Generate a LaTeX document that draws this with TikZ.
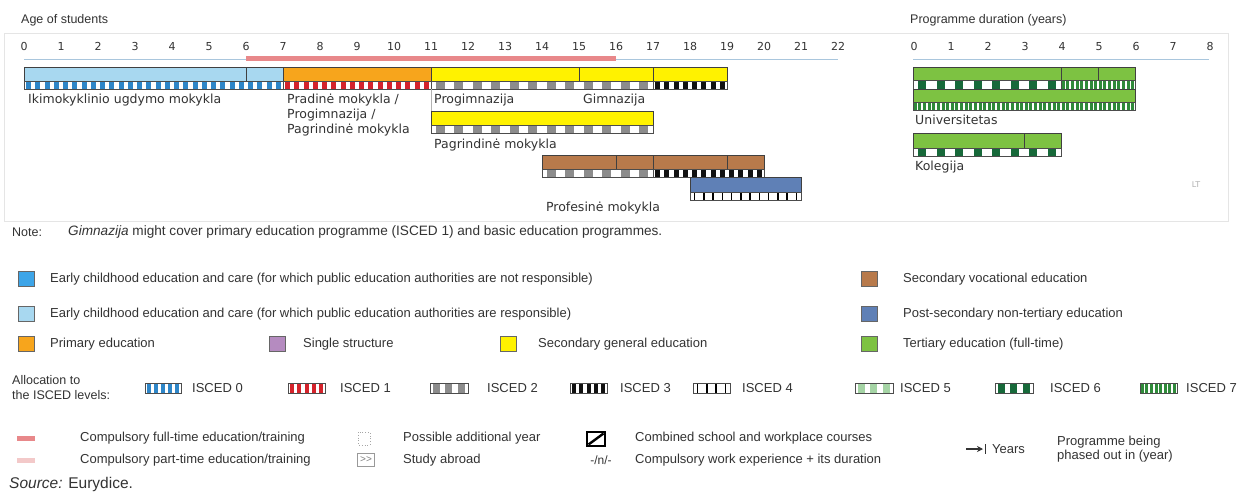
\documentclass[tikz,border=0pt]{standalone}
\usepackage{fontspec}
\setmainfont{Liberation Sans}
\newfontfamily\chartfont{DejaVu Sans}
\usetikzlibrary{arrows.meta}
\definecolor{ecec}{HTML}{A8D8F0}
\definecolor{ececnr}{HTML}{3DA5E8}
\definecolor{prim}{HTML}{F7A51C}
\definecolor{sec}{HTML}{FFF200}
\definecolor{voc}{HTML}{B87A4B}
\definecolor{pst}{HTML}{5F80B6}
\definecolor{ter}{HTML}{7DC242}
\definecolor{single}{HTML}{B58BC0}
\definecolor{isa}{HTML}{2E86C8}
\definecolor{isb}{HTML}{D4232B}
\definecolor{isc}{HTML}{8C8C8C}
\definecolor{isd}{HTML}{111111}
\definecolor{isf}{HTML}{A5D4A5}
\definecolor{isg}{HTML}{17693A}
\definecolor{ish}{HTML}{2F8A3A}
\definecolor{comp}{HTML}{E8888A}
\definecolor{compp}{HTML}{F3C9C9}
\definecolor{axisc}{HTML}{A9C6DD}
\definecolor{txt}{HTML}{333333}
% strip: x1 x2 ytop ybot colour period on-width
\newcommand\isstrip[7]{%
  \begin{scope}
    \clip (#1,#3) rectangle (#2,#4);
    \fill[white] (#1,#3) rectangle (#2,#4);
    \pgfmathsetmacro\mynn{int(ceil((#2-#1)/#6))}
    \foreach \k in {0,...,\mynn}{\fill[#5] ({#1+(#6-#7)/2+\k*#6},#3) rectangle ({#1+(#6-#7)/2+\k*#6+#7},#4);}
  \end{scope}
  \draw[stripborder] (#1,#3) rectangle (#2,#4);
}
% colour bar: x1 x2 ytop ybot colour
\newcommand\colbar[5]{\fill[#5] (#1,#3) rectangle (#2,#4); \draw[barborder] (#1,#3) rectangle (#2,#4);}
\newcommand\divider[3]{\draw[barborder] (#1,#2) -- (#1,#3);}
\begin{document}
\begin{tikzpicture}[x=1pt,y=-1pt,
  stripborder/.style={draw=black!70, line width=0.6},
  barborder/.style={draw=black!75, line width=0.8},
  lg/.style={font=\fontsize{13}{15}\selectfont, text=txt, inner sep=0, anchor=west},
  cl/.style={font=\chartfont\fontsize{12.5}{15}\selectfont, text=txt, inner sep=0, anchor=west},
  num/.style={font=\chartfont\fontsize{11}{13}\selectfont, text=txt, inner sep=0, anchor=base},
  lsq/.style={draw=black!60, line width=0.8, minimum width=16, minimum height=15, inner sep=0},
]
\useasboundingbox (0,0) rectangle (1247,493);
\fill[white] (0,0) rectangle (1247,493);
\draw[black!10] (4,33) rectangle (1228,221);

% titles
\node[lg, font=\fontsize{12.5}{15}\selectfont] (age) at (21,20) {Age of students};
\node[lg, font=\fontsize{12.5}{15}\selectfont] (dur) at (910,20) {Programme duration (years)};

% axes
\foreach \a in {0,...,22} \node[num] (n\a) at ({24+37*\a},50) {\a};
\foreach \a in {0,...,8} \node[num] (m\a) at ({914+37*\a},50) {\a};
\draw[axisc, line width=1] (24,59) -- (838,59);
\draw[axisc, line width=1] (913,59) -- (1209,59);
\fill[comp] (246,55.5) rectangle (616,60.5);

% row 1
\colbar{24}{283}{67}{81}{ecec}
\divider{246}{67}{81}
\colbar{283}{431}{67}{81}{prim}
\colbar{431}{727}{67}{81}{sec}
\divider{579}{67}{81}
\divider{653}{67}{81}
\isstrip{24}{283}{81}{89}{isa}{9.25}{5}
\isstrip{283}{431}{81}{89}{isb}{9.25}{5}
\isstrip{431}{653}{81}{89}{isc}{18.5}{9}
\isstrip{653}{727}{81}{89}{isd}{9.25}{5}
\draw[black!30] (431,89) -- (431,111);

% row 2
\colbar{431}{653}{111}{125}{sec}
\isstrip{431}{653}{125}{133}{isc}{18.5}{9}

% row 3 vocational
\colbar{542}{764}{155}{169}{voc}
\divider{616}{155}{169}
\divider{653}{155}{169}
\divider{727}{155}{169}
\isstrip{542}{653}{169}{177}{isc}{18.5}{9}
\isstrip{653}{764}{169}{177}{isd}{9.25}{5}

% row 4 post-secondary
\colbar{690}{801}{177}{192}{pst}
\isstrip{690}{801}{192}{200}{black}{9.25}{1.3}

% tertiary
\colbar{913}{1135}{67}{80}{ter}
\divider{1061}{67}{80}
\divider{1098}{67}{80}
\isstrip{913}{1061}{80}{89}{isg}{18.5}{8}
\isstrip{1061}{1135}{80}{89}{ish}{4.625}{3}
\colbar{913}{1135}{89}{102}{ter}
\isstrip{913}{1135}{102}{110}{ish}{4.625}{3}
\colbar{913}{1061}{133}{148}{ter}
\divider{1024}{133}{148}
\isstrip{913}{1061}{148}{156}{isg}{18.5}{8}

% chart labels
\node[cl] (l1) at (28,100) {Ikimokyklinio ugdymo mokykla};
\node[cl] (l2a) at (287,100) {Pradinė mokykla /};
\node[cl] (l2b) at (287,115) {Progimnazija /};
\node[cl] (l2c) at (287,130) {Pagrindinė mokykla};
\node[cl] (l3) at (434,100) {Progimnazija};
\node[cl] (l4) at (583,100) {Gimnazija};
\node[cl] (l5) at (434,145) {Pagrindinė mokykla};
\node[cl, anchor=center] (l6) at (603,208) {Profesinė mokykla};
\node[cl] (l7) at (915,120) {Universitetas};
\node[cl] (l8) at (915,167) {Kolegija};
\node[cl, anchor=center, font=\chartfont\fontsize{8}{10}\selectfont, text=black!30] (lt) at (1196,185) {LT};

% note
\node[lg, font=\fontsize{12.5}{15}\selectfont] (note) at (12,232) {Note:};
\node[lg, font=\fontsize{13.6}{15}\selectfont] (notet) at (68,232) {\textit{Gimnazija} might cover primary education programme (ISCED 1) and basic education programmes.};

% legend colours
\node[lsq, fill=ececnr] (s1) at (26,279) {};
\node[lg] (t1) at (50,279) {Early childhood education and care (for which public education authorities are not responsible)};
\node[lsq, fill=ecec] (s2) at (26,314) {};
\node[lg] (t2) at (50,314) {Early childhood education and care (for which public education authorities are responsible)};
\node[lsq, fill=prim] (s3) at (26,344) {};
\node[lg] (t3) at (50,344) {Primary education};
\node[lsq, fill=single] (s4) at (277,344) {};
\node[lg] (t4) at (303,344) {Single structure};
\node[lsq, fill=sec] (s5) at (508,344) {};
\node[lg] (t5) at (538,344) {Secondary general education};
\node[lsq, fill=voc] (s6) at (869,279) {};
\node[lg] (t6) at (903,279) {Secondary vocational education};
\node[lsq, fill=pst] (s7) at (869,314) {};
\node[lg] (t7) at (903,314) {Post-secondary non-tertiary education};
\node[lsq, fill=ter] (s8) at (869,344) {};
\node[lg] (t8) at (903,344) {Tertiary education (full-time)};

% ISCED allocation
\node[lg, font=\fontsize{12.5}{15}\selectfont] (al1) at (12,380) {Allocation to};
\node[lg, font=\fontsize{12.5}{15}\selectfont] (al2) at (12,395) {the ISCED levels:};
\isstrip{145}{181}{383}{393}{isa}{7.2}{4}
\node[lg] (i0) at (192,388) {ISCED 0};
\isstrip{288}{325}{383}{393}{isb}{7.4}{4}
\node[lg] (i1) at (340,388) {ISCED 1};
\isstrip{430}{468}{383}{393}{isc}{12.6}{7}
\node[lg] (i2) at (487,388) {ISCED 2};
\isstrip{570}{607}{383}{393}{isd}{7.4}{4}
\node[lg] (i3) at (620,388) {ISCED 3};
\isstrip{693}{730}{383}{393}{black}{9.25}{1.3}
\node[lg] (i4) at (742,388) {ISCED 4};
\isstrip{855}{893}{383}{393}{isf}{12.6}{7}
\node[lg] (i5) at (900,388) {ISCED 5};
\isstrip{995}{1033}{383}{393}{isg}{12.6}{7}
\node[lg] (i6) at (1050,388) {ISCED 6};
\isstrip{1140}{1177}{383}{393}{ish}{4.6}{3}
\node[lg] (i7) at (1186,388) {ISCED 7};

% bottom legend
\fill[comp] (17,435.5) rectangle (35,440.5);
\node[lg] (c1) at (80,438) {Compulsory full-time education/training};
\fill[compp] (17,457.5) rectangle (35,462.5);
\node[lg] (c2) at (80,460) {Compulsory part-time education/training};
\draw[black!35, dotted, line width=0.8] (358,432) rectangle (370,445);
\node[lg] (p1) at (403,438) {Possible additional year};
\node[draw=black!40, line width=0.6, minimum width=17, minimum height=13, inner sep=0, font=\fontsize{10}{12}\selectfont, text=black!50] (sa) at (366,460) {>{}>};
\node[lg] (p2) at (403,460) {Study abroad};
\draw[line width=1.2] (587,432) rectangle (605,446);
\draw[line width=2.4] (588.5,444.5) -- (603.5,433.5);
\node[lg] (p3) at (635,438) {Combined school and workplace courses};
\node[lg, anchor=center, font=\fontsize{12}{14}\selectfont] (wk) at (601,460) {-/n/-};
\node[lg] (p4) at (635,460) {Compulsory work experience + its duration};
\coordinate (ya) at (966,449);
\coordinate (yb) at (983,449);
\draw[-{Stealth[length=6,width=6]}, line width=1.3, txt] (ya) -- (yb);
\draw[line width=1.3, txt] (985.5,444) -- (985.5,454);
\node[lg] (yrs) at (992,449) {Years};
\node[lg] (ph1) at (1057,442) {Programme being};
\node[lg] (ph2) at (1057,456) {phased out in (year)};
\node[lg, font=\fontsize{15.5}{18}\selectfont] (src) at (9,484) {\textit{Source:} Eurydice.};
\end{tikzpicture}
\end{document}
